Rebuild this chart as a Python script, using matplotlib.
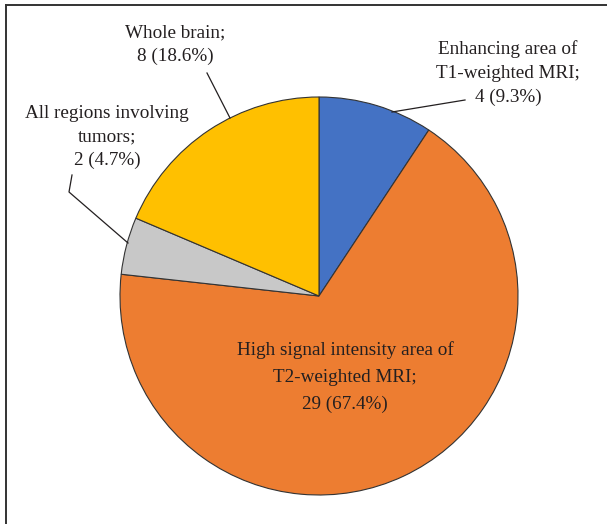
import matplotlib
matplotlib.use("Agg")
import matplotlib.pyplot as plt
from matplotlib.lines import Line2D

categories = ["Enhancing area of\nT1-weighted MRI;",
              "High signal intensity area of\nT2-weighted MRI;",
              "All regions involving\ntumors;",
              "Whole brain;"]
counts = [4, 29, 2, 8]
percents = [9.3, 67.4, 4.7, 18.6]
colors = ["#4472C4", "#ED7D31", "#C8C8C8", "#FFC000"]

W, H = 607, 524
fig = plt.figure(figsize=(W / 100, H / 100), dpi=100)
ax = fig.add_axes([0, 0, 1, 1])

cx, cy, r = 319, H - 296, 199
ax.pie(counts, colors=colors, startangle=90, counterclock=False,
       center=(cx, cy), radius=r, frame=True,
       wedgeprops=dict(edgecolor="#333333", linewidth=0.8))
ax.set_xlim(0, W)
ax.set_ylim(0, H)
ax.set_aspect("equal")
ax.axis("off")

font = dict(family=["Liberation Serif", "DejaVu Serif"], fontsize=13.8,
            color="#231F20", ha="center", va="center")

labels = [f"{c}\n{n} ({p}%)" for c, n, p in zip(categories, counts, percents)]
pos = [(508, 73), (345, 377), (107, 137), (175, 45)]
spacing = [1.5, 1.72, 1.5, 1.5]
for lab, (x, y), ls in zip(labels, pos, spacing):
    ax.text(x, H - y, lab, linespacing=ls, **font)

lc = "#231F20"
def leader(xs, ys):
    ax.add_line(Line2D(xs, [H - v for v in ys], color=lc, linewidth=0.9))

leader([465, 392], [100, 112])
leader([207, 230], [73, 118])
leader([72, 69, 128], [175, 192, 243])

# frame (open to the right and bottom edges)
fr = "#333333"
fig.add_artist(Line2D([6 / W, 1], [1 - 5 / H, 1 - 5 / H], transform=fig.transFigure,
                      color=fr, linewidth=1.4))
fig.add_artist(Line2D([6 / W, 6 / W], [0, 1 - 5 / H], transform=fig.transFigure,
                      color=fr, linewidth=1.4))

fig.savefig("out.png", dpi=100)
